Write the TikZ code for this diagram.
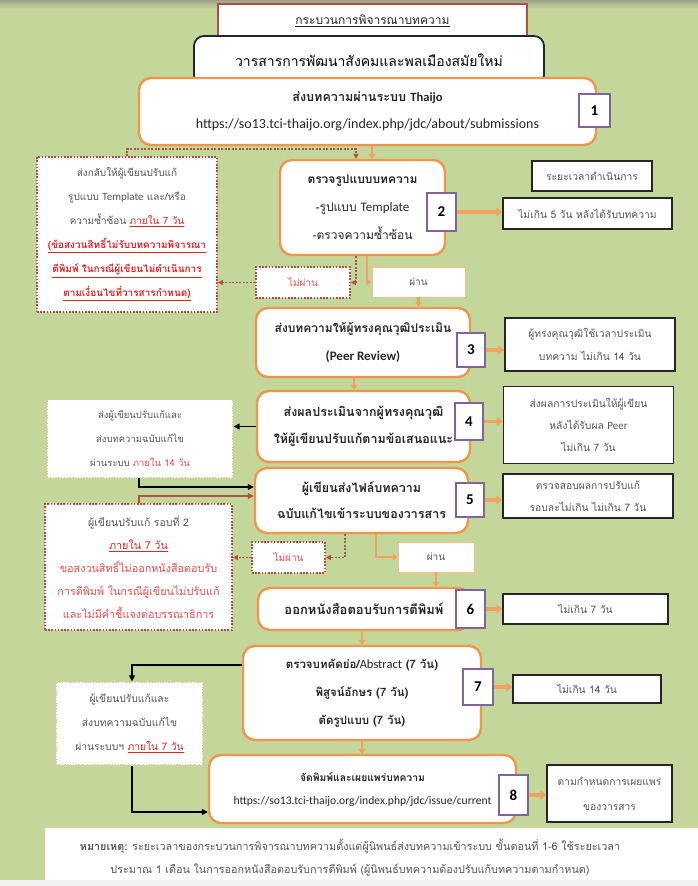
\documentclass[tikz,border=0pt]{standalone}
\usepackage{fontspec}
\setmainfont[Script=Thai]{Loma}
\newfontfamily\lat{Carlito}
\usetikzlibrary{arrows.meta}
\definecolor{bg}{RGB}{196,215,155}
\definecolor{borange}{RGB}{240,150,75}
\definecolor{corange}{RGB}{242,162,95}
\definecolor{npurple}{RGB}{128,100,162}
\definecolor{tred}{RGB}{185,75,70}
\definecolor{dred}{RGB}{176,82,70}
\definecolor{rtext}{RGB}{228,35,35}
\definecolor{rtext2}{RGB}{240,75,75}
\definecolor{gtext}{RGB}{85,85,85}
\definecolor{beige}{RGB}{222,205,150}
\definecolor{navy}{RGB}{30,40,55}
\definecolor{passb}{RGB}{245,190,140}
\newcommand\fs[2]{\fontsize{#1}{#2}\selectfont}
\newcommand\ru[1]{\textcolor{rtext}{\underline{#1}}}
\begin{document}
\begin{tikzpicture}[x=1pt,y=-1pt,
  mainbox/.style={draw=borange,line width=2.4pt,fill=white,rounded corners=12pt,inner sep=0pt,align=center,text=black!85},
  numbox/.style={draw=npurple,line width=1.8pt,fill=white,inner sep=0pt,font=\lat\bfseries\fs{15}{18}},
  sidebox/.style={draw=black!85,line width=1.3pt,fill=white,inner sep=0pt,align=center,text=gtext,font=\fs{10.3}{23}},
  redbox/.style={draw=tred,dash pattern=on 1.6pt off 1.6pt,line width=1.6pt,fill=white,inner sep=0pt,align=center,text=gtext},
  beigebox/.style={draw=beige,dash pattern=on 1.4pt off 1.4pt,line width=1.3pt,fill=white,inner sep=0pt,align=center,text=gtext},
  passbox/.style={draw=passb,line width=0.8pt,fill=white,inner sep=0pt,text=gtext,font=\fs{10}{12}},
  oline/.style={draw=corange,line width=2.6pt},
  oarrow/.style={oline,-{Triangle[length=5pt,width=7pt]}},
  othick/.style={draw=corange,line width=3.6pt,-{Triangle[length=6pt,width=9pt]}},
  rdash/.style={draw=dred,line width=1.3pt,dash pattern=on 2pt off 1.5pt,-{Triangle[length=5pt,width=5pt]}},
  rsolid/.style={draw=dred,line width=1.3pt,-{Triangle[length=6pt,width=6pt]}},
  barrow/.style={draw=black,line width=1.2pt,-{Triangle[length=6pt,width=6pt]}}
]
\useasboundingbox (0,0) rectangle (698,886);
\fill[bg] (0,0) rectangle (698,886);
\shade[top color=gray!60!bg,bottom color=bg] (0,0) rectangle (698,9);
% note panel
\fill[white] (45,828) rectangle (698,880);
\fill[gray!12] (0,880) rectangle (698,886);

% title and journal
\node[draw=tred,line width=2pt,fill=white,minimum width=309pt,minimum height=41pt,inner sep=0pt] (title) at (372.5,24.5) {};
\node[font=\fs{12}{14},text=black!85] (titletxt) at (372.5,21) {\underline{กระบวนการพิจารณาบทความ}};
\node[draw=navy,line width=1.8pt,fill=white,rounded corners=10pt,minimum width=350pt,minimum height=49pt,inner sep=0pt,font=\fs{14}{16}] (journal) at (369,60.5) {วารสารการพัฒนาสังคมและพลเมืองสมัยใหม่};

% main steps
\node[mainbox,minimum width=457pt,minimum height=67pt,font=\fs{12.6}{27}] (box1) at (367.5,111.5)
  {{\bfseries ส่งบทความผ่านระบบ {\lat Thaijo}}\\{\lat\fs{14}{27}https://so13.tci-thaijo.org/index.php/jdc/about/submissions}};
\node[numbox,minimum width=31pt,minimum height=33pt] (num1) at (594.5,110.5) {1};

\node[mainbox,minimum width=165pt,minimum height=95pt,font=\fs{12}{28}] (box2) at (362.5,207.5)
  {{\bfseries ตรวจรูปแบบบทความ}\\-รูปแบบ {\lat\fs{13}{28}Template}\\-ตรวจความซ้ำซ้อน};
\node[numbox,minimum width=29pt,minimum height=38pt] (num2) at (441.5,212) {2};
\node[sidebox,minimum width=120pt,minimum height=30pt] (timehead) at (592,176) {ระยะเวลาดำเนินการ};
\node[sidebox,minimum width=169pt,minimum height=31pt] (side2) at (587.5,213.5) {ไม่เกิน 5 วัน หลังได้รับบทความ};

\node[redbox,minimum width=180pt,minimum height=155pt,font=\fs{10}{24}] (red1) at (127,234.5)
  {ส่งกลับให้ผู้เขียนปรับแก้\\รูปแบบ {\lat\fs{11}{24}Template} และ/หรือ\\ความซ้ำซ้อน \ru{ภายใน 7 วัน}\\
   {\bfseries\ru{(ข้อสงวนสิทธิ์ไม่รับบทความพิจารณา}}\\{\bfseries\ru{ตีพิมพ์ ในกรณีผู้เขียนไม่ดำเนินการ}}\\{\bfseries\ru{ตามเงื่อนไขที่วารสารกำหนด)}}};
\node[redbox,minimum width=94pt,minimum height=31pt,font=\fs{10}{12}] (notpass1) at (303,282.5) {\textcolor{rtext2}{ไม่ผ่าน}};
\node[passbox,minimum width=93pt,minimum height=30pt] (pass1) at (418.5,282) {ผ่าน};

\node[mainbox,minimum width=214pt,minimum height=69pt,font=\bfseries\fs{12}{28}] (box3) at (363,342.5)
  {ส่งบทความให้ผู้ทรงคุณวุฒิประเมิน\\{\lat\fs{13}{28}(Peer Review)}};
\node[numbox,minimum width=28pt,minimum height=34pt] (num3) at (471,350) {3};
\node[sidebox,minimum width=170pt,minimum height=53pt] (side3) at (590,344.5) {ผู้ทรงคุณวุฒิใช้เวลาประเมิน\\บทความ ไม่เกิน 14 วัน};

\node[mainbox,minimum width=213pt,minimum height=71pt,font=\bfseries\fs{12.5}{27}] (box4) at (363.5,426.5)
  {ส่งผลประเมินจากผู้ทรงคุณวุฒิ\\ให้ผู้เขียนปรับแก้ตามข้อเสนอแนะ};
\node[numbox,minimum width=28pt,minimum height=37pt] (num4) at (469,421.5) {4};
\node[sidebox,minimum width=170pt,minimum height=77pt,font=\fs{10.3}{22}] (side4) at (588.5,425) {ส่งผลการประเมินให้ผู้เขียน\\หลังได้รับผล {\lat\fs{11}{22}Peer}\\ไม่เกิน 7 วัน};
\node[beigebox,minimum width=186pt,minimum height=78pt,font=\fs{9.5}{24}] (leftA) at (140,438.5)
  {ส่งผู้เขียนปรับแก้และ\\ส่งบทความฉบับแก้ไข\\ผ่านระบบ \textcolor{rtext2}{ภายใน 14 วัน}};

\node[mainbox,minimum width=213pt,minimum height=65pt,font=\bfseries\fs{12.5}{26}] (box5) at (361.5,500.5)
  {ผู้เขียนส่งไฟล์บทความ\\ฉบับแก้ไขเข้าระบบของวารสาร};
\node[numbox,minimum width=28pt,minimum height=34pt] (num5) at (470,500) {5};
\node[sidebox,minimum width=170pt,minimum height=44pt,font=\fs{10.3}{22}] (side5) at (588,496) {ตรวจสอบผลการปรับแก้\\รอบละไม่เกิน ไม่เกิน 7 วัน};

\node[redbox,minimum width=187pt,minimum height=126pt,font=\fs{10.8}{23}] (red2) at (138.5,567)
  {{\fs{10.5}{23}ผู้เขียนปรับแก้ รอบที่ 2}\\\ru{ภายใน 7 วัน}\\
   \textcolor{rtext2}{ขอสงวนสิทธิ์ไม่ออกหนังสือตอบรับ}\\\textcolor{rtext2}{การตีพิมพ์ ในกรณีผู้เขียนไม่ปรับแก้}\\\textcolor{rtext2}{และไม่มีคำชี้แจงต่อบรรณาธิการ}};
\node[redbox,minimum width=73pt,minimum height=31pt,font=\fs{10}{12}] (notpass2) at (288.5,557.5) {\textcolor{rtext2}{ไม่ผ่าน}};
\node[passbox,minimum width=76pt,minimum height=30pt] (pass2) at (436,557) {ผ่าน};

\node[mainbox,minimum width=212pt,minimum height=42pt,font=\bfseries\fs{13}{15}] (box6) at (364,609) {ออกหนังสือตอบรับการตีพิมพ์};
\node[numbox,minimum width=29pt,minimum height=38pt] (num6) at (470.5,609) {6};
\node[sidebox,minimum width=165pt,minimum height=30pt] (side6) at (585.5,609) {ไม่เกิน 7 วัน};

\node[mainbox,minimum width=238pt,minimum height=94pt,font=\bfseries\fs{11.5}{28}] (box7) at (362,693)
  {ตรวจบทคัดย่อ/{\lat\mdseries\fs{12.5}{28}Abstract} (7 วัน)\\พิสูจน์อักษร (7 วัน)\\ตัดรูปแบบ (7 วัน)};
\node[numbox,minimum width=30pt,minimum height=36pt] (num7) at (478,687) {7};
\node[sidebox,minimum width=148pt,minimum height=28pt] (side7) at (587,689) {ไม่เกิน 14 วัน};
\node[beigebox,minimum width=147pt,minimum height=83pt,font=\fs{10.3}{24}] (leftB) at (129.5,723.5)
  {ผู้เขียนปรับแก้และ\\ส่งบทความฉบับแก้ไข\\ผ่านระบบฯ \ru{ภายใน 7 วัน}};

\node[mainbox,minimum width=307pt,minimum height=68pt,font=\fs{10.3}{23}] (box8) at (362.5,789)
  {{\bfseries จัดพิมพ์และเผยแพร่บทความ}\\{\lat\fs{11.6}{23}https://so13.tci-thaijo.org/index.php/jdc/issue/current}};
\node[numbox,minimum width=29pt,minimum height=40pt] (num8) at (513.5,795) {8};
\node[sidebox,minimum width=125pt,minimum height=57pt,font=\fs{10.3}{25}] (side8) at (609.5,793.5) {ตามกำหนดการเผยแพร่\\ของวารสาร};

\node[align=center,text=gtext,font=\fs{10.8}{23}] (note) at (350,858)
  {{\bfseries หมายเหตุ:} ระยะเวลาของกระบวนการพิจารณาบทความตั้งแต่ผู้นิพนธ์ส่งบทความเข้าระบบ ขั้นตอนที่ 1-6 ใช้ระยะเวลา\\
   ประมาณ 1 เดือน ในการออกหนังสือตอบรับการตีพิมพ์ (ผู้นิพนธ์บทความต้องปรับแก้บทความตามกำหนด)};

% helper coordinates
\coordinate (k372) at (372,0);
\coordinate (k127) at (127,149);
\coordinate (kbend) at (356,149);
\coordinate (k367) at (367,0);
\coordinate (k354) at (354,0);
\coordinate (j1) at (139,487);
\coordinate (j2) at (139,496);
\coordinate (k345) at (345,0);
\coordinate (k376) at (376,0);
\coordinate (k362) at (362,0);
\coordinate (j3) at (132,665);
\coordinate (j4) at (132,812);

% connectors
\draw[oarrow] (box1.south -| k372) -- (box2.north -| k372);
\draw[rdash] (red1.north -| k127) -- (k127) -- (kbend) -- (box2.north -| kbend);
\draw[rdash] (box2.south -| kbend) |- (notpass1.east);
\draw[oarrow] (box2.south -| k367) |- (pass1.west);
\draw[rdash] (notpass1.west) -- (notpass1.west -| red1.east);
\draw[oarrow] (pass1.south) -- (pass1.south |- box3.north);
\draw[oarrow] (box3.south -| k354) -- (box4.north -| k354);
\draw[barrow] (box4.west) -- (box4.west -| leftA.east);
\draw[barrow] (leftA.south -| j1) |- (j1 -| box5.west);
\draw[rsolid] (red2.north -| j2) |- (j2 -| box5.west);
\draw[rdash] (box5.south -| k345) |- (notpass2.east);
\draw[oarrow] (box5.south -| k376) |- (pass2.west);
\draw[rdash] (notpass2.west) -- (notpass2.west -| red2.east);
\draw[oarrow] (pass2.south) -- (pass2.south |- box6.north);
\draw[oarrow] (box6.south -| k362) -- (box7.north -| k362);
\draw[barrow] (j3 -| box7.west) -| (leftB.north -| j3);
\draw[barrow] (leftB.south -| j4) |- (j4 -| box8.west);
\draw[oarrow] (box7.south -| k362) -- (box8.north -| k362);

\draw[othick] (num2.east) -- (num2.east -| side2.west);
\draw[othick] (num3.east) -- (num3.east -| side3.west);
\draw[othick] (num4.east) -- (num4.east -| side4.west);
\draw[othick] (num5.east) -- (num5.east -| side5.west);
\draw[othick] (num6.east) -- (num6.east -| side6.west);
\draw[othick] (num7.east) -- (num7.east -| side7.west);
\draw[othick] (num8.east) -- (num8.east -| side8.west);
\end{tikzpicture}
\end{document}
